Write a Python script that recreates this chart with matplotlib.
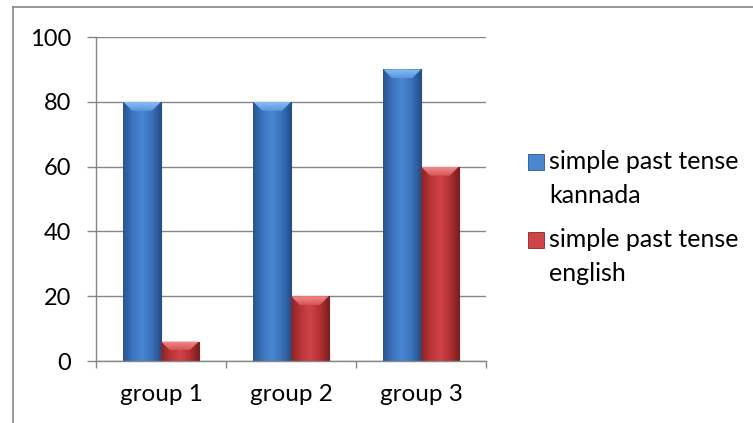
import numpy as np
import matplotlib
matplotlib.use("Agg")
import matplotlib.pyplot as plt
from matplotlib.patches import Polygon, Rectangle
from matplotlib.lines import Line2D
from matplotlib.colors import LinearSegmentedColormap
from matplotlib.legend_handler import HandlerPatch

# Chart data
groups = ["group 1", "group 2", "group 3"]
kannada = [80, 80, 90]
english = [6, 20, 60]
series_labels = ["simple past tense\nkannada", "simple past tense\nenglish"]
y_ticks = [0, 20, 40, 60, 80, 100]

plt.rcParams["font.family"] = ["Lato", "DejaVu Sans"]
FS_Y = 17
FS_X = 17.5
FS_LEG = 18

W, H, DPI = 753, 423, 100
PT = 72 / DPI  # points per pixel
fig = plt.figure(figsize=(W / DPI, H / DPI), dpi=DPI)
fig.patch.set_facecolor("white")

# plot area in pixels: left 96, right 486, top 37, bottom 361
ax = fig.add_axes([96 / W, 1 - 361 / H, (486 - 96) / W, (361 - 37) / H])

grid_col = "#868686"
blue_cols = ["#2a5590", "#3b74bf", "#4a86d2", "#3a72bb", "#25508a"]
red_cols = ["#8a2426", "#b83436", "#cf4446", "#b53234", "#7e1f21"]
blue_top = ["#5a96de", "#86bcf4"]
red_top = ["#d65556", "#f08a8a"]

x = np.arange(len(groups))
bw = 0.29
b1 = ax.bar(x - bw / 2, kannada, bw, color=blue_cols[2], zorder=2,
            label=series_labels[0], linewidth=0)
b2 = ax.bar(x + bw / 2, english, bw, color=red_cols[2], zorder=2,
            label=series_labels[1], linewidth=0)

ax.set_xlim(-0.5, len(groups) - 0.5)
ax.set_ylim(0, 100)

# pixel-to-data conversion for bevel sizes
ax_w_px = 486 - 96
ax_h_px = 361 - 37
px_x = len(groups) / ax_w_px
px_y = 100 / ax_h_px


def shade_bars(bars, cols, top_cols):
    cmap = LinearSegmentedColormap.from_list("shade", cols)
    tmap = LinearSegmentedColormap.from_list("top", top_cols)
    grad = np.linspace(0, 1, 64).reshape(1, -1)
    vgrad = np.linspace(0, 1, 32).reshape(-1, 1)
    for b in bars:
        bx, by = b.get_x(), b.get_y()
        w, h = b.get_width(), b.get_height()
        b.set_alpha(0)
        im = ax.imshow(grad, cmap=cmap, extent=(bx, bx + w, by, by + h),
                       aspect="auto", zorder=2.1, interpolation="bicubic")
        im.set_clip_path(Rectangle((bx, by), w, h, transform=ax.transData))
        bh = min(9 * px_y, h * 0.45)
        d = 9 * px_x
        top = by + h
        face = Polygon([(bx, top), (bx + w, top), (bx + w - d, top - bh),
                        (bx + d, top - bh)], closed=True, transform=ax.transData)
        tim = ax.imshow(vgrad, cmap=tmap, extent=(bx, bx + w, top - bh, top),
                        aspect="auto", zorder=2.2, interpolation="bicubic",
                        origin="lower")
        tim.set_clip_path(face)
        # thin dark outline along the sides
        ax.plot([bx, bx], [by, top], color=cols[0], lw=0.6, zorder=2.3)
        ax.plot([bx + w, bx + w], [by, top], color=cols[-1], lw=0.8, zorder=2.3)


shade_bars(b1, blue_cols, blue_top)
shade_bars(b2, red_cols, red_top)

ax.set_xlim(-0.5, len(groups) - 0.5)
ax.set_ylim(0, 100)

# axes styling
for s in ["top", "right"]:
    ax.spines[s].set_visible(False)
for s in ["left", "bottom"]:
    ax.spines[s].set_color(grid_col)
    ax.spines[s].set_linewidth(1.0)

ax.set_yticks(y_ticks)
ax.set_yticklabels([str(v) for v in y_ticks])
ax.yaxis.grid(True, color=grid_col, linewidth=1.0, zorder=1)
ax.set_axisbelow(True)
ax.tick_params(axis="y", length=9 * PT, width=1.0, color=grid_col,
               labelsize=FS_Y, pad=16 * PT, labelcolor="black")

ax.set_xticks(np.arange(len(groups) + 1) - 0.5)
ax.set_xticklabels([])
ax.set_xticks(x, minor=True)
ax.set_xticklabels(groups, minor=True)
ax.tick_params(axis="x", which="major", length=7 * PT, width=1.0,
               color=grid_col)
ax.tick_params(axis="x", which="minor", length=0, labelsize=FS_X,
               pad=23 * PT, labelcolor="black")


# legend: square key aligned with the first line of each two-line label
def key_patch(legend, orig_handle, xdescent, ydescent, width, height, fontsize):
    shift = 0.70 * fontsize
    return Rectangle((-xdescent, -ydescent + shift), width, height)


handles = [Rectangle((0, 0), 1, 1, facecolor=blue_cols[2], edgecolor=blue_cols[0], lw=0.6),
           Rectangle((0, 0), 1, 1, facecolor=red_cols[2], edgecolor=red_cols[0], lw=0.6)]
leg = fig.legend(handles, series_labels, loc="upper left",
                 bbox_to_anchor=(528 / W, 1 - 150 / H), frameon=False,
                 fontsize=FS_LEG, handlelength=0.62, handleheight=0.62,
                 handletextpad=0.22, labelspacing=0.82, borderpad=0,
                 borderaxespad=0,
                 handler_map={Rectangle: HandlerPatch(patch_func=key_patch)})
for t in leg.get_texts():
    t.set_linespacing(1.6)

# chart frame (left and top edges visible)
fig.add_artist(Line2D([12.5 / W, 12.5 / W], [0, 1 - 7.5 / H],
                      color=grid_col, lw=1.2, transform=fig.transFigure))
fig.add_artist(Line2D([12.5 / W, 1], [1 - 7.5 / H, 1 - 7.5 / H],
                      color=grid_col, lw=1.2, transform=fig.transFigure))

fig.savefig("out.png", dpi=DPI, facecolor="white")
